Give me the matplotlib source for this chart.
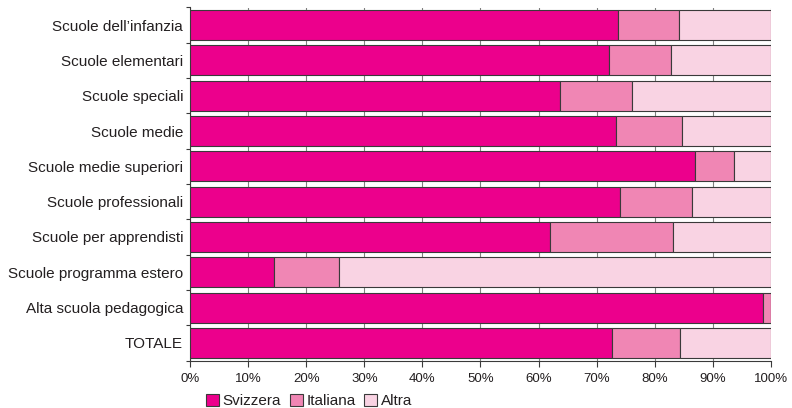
import matplotlib
matplotlib.use("Agg")
import matplotlib.pyplot as plt
import numpy as np

plt.rcParams['font.family'] = ['Liberation Sans', 'DejaVu Sans']

categories = ["Scuole dell\u2019infanzia", "Scuole elementari", "Scuole speciali", "Scuole medie",
              "Scuole medie superiori", "Scuole professionali", "Scuole per apprendisti",
              "Scuole programma estero", "Alta scuola pedagogica", "TOTALE"]
svizzera = [73.6, 72.1, 63.7, 73.4, 87.0, 74.0, 62.0, 14.5, 98.7, 72.7]
italiana = [10.5, 10.7, 12.3, 11.3, 6.6, 12.4, 21.2, 11.1, 1.3, 11.6]
altra = [15.9, 17.2, 24.0, 15.3, 6.4, 13.6, 16.8, 74.4, 0.0, 15.7]
series_names = ["Svizzera", "Italiana", "Altra"]
colors = ["#EC008C", "#F086B4", "#F9D3E3"]
xticks = [0, 10, 20, 30, 40, 50, 60, 70, 80, 90, 100]

textc = "#231F20"
fig = plt.figure(figsize=(7.92, 4.08), dpi=100)
ax = fig.add_axes([190/792, 1-360.5/408, 581/792, 353/408])

y = np.arange(len(categories))
left = np.zeros(len(categories))
handles = []
for vals, name, col in zip([svizzera, italiana, altra], series_names, colors):
    b = ax.barh(y, vals, left=left, height=0.85, color=col, edgecolor="#3a3a3a",
                linewidth=0.8, label=name, zorder=3)
    handles.append(b)
    left = left + np.array(vals)

ax.set_xlim(0, 100)
ax.set_ylim(9.5, -0.5)
ax.set_xticks(xticks)
ax.set_xticklabels([f"{t}%" for t in xticks], fontsize=9.5, color=textc)
ax.set_yticks(y)
ax.set_yticklabels(categories, fontsize=11, color=textc)
ax.tick_params(axis='y', length=0, pad=5)
ax.set_yticks(np.arange(-0.5, 10, 1), minor=True)
ax.tick_params(axis='y', which='minor', length=3, width=0.8, color="#3a3a3a")
ax.tick_params(axis='x', length=4, width=0.8, color="#3a3a3a", pad=5)
ax.grid(axis='x', color="#808080", linewidth=0.8, zorder=0)
ax.set_axisbelow(True)
for s in ['top', 'right']:
    ax.spines[s].set_visible(False)
for s in ['left', 'bottom']:
    ax.spines[s].set_color("#3a3a3a")
    ax.spines[s].set_linewidth(0.8)

leg = fig.legend(handles=handles, labels=series_names, loc='center left',
                 bbox_to_anchor=(206/792, 1-401/408), ncol=3, frameon=False,
                 fontsize=11, handlelength=0.85, handleheight=0.85,
                 handletextpad=0.25, columnspacing=0.55, borderpad=0, borderaxespad=0)
for t in leg.get_texts():
    t.set_color(textc)

fig.savefig("out.png", dpi=100)
